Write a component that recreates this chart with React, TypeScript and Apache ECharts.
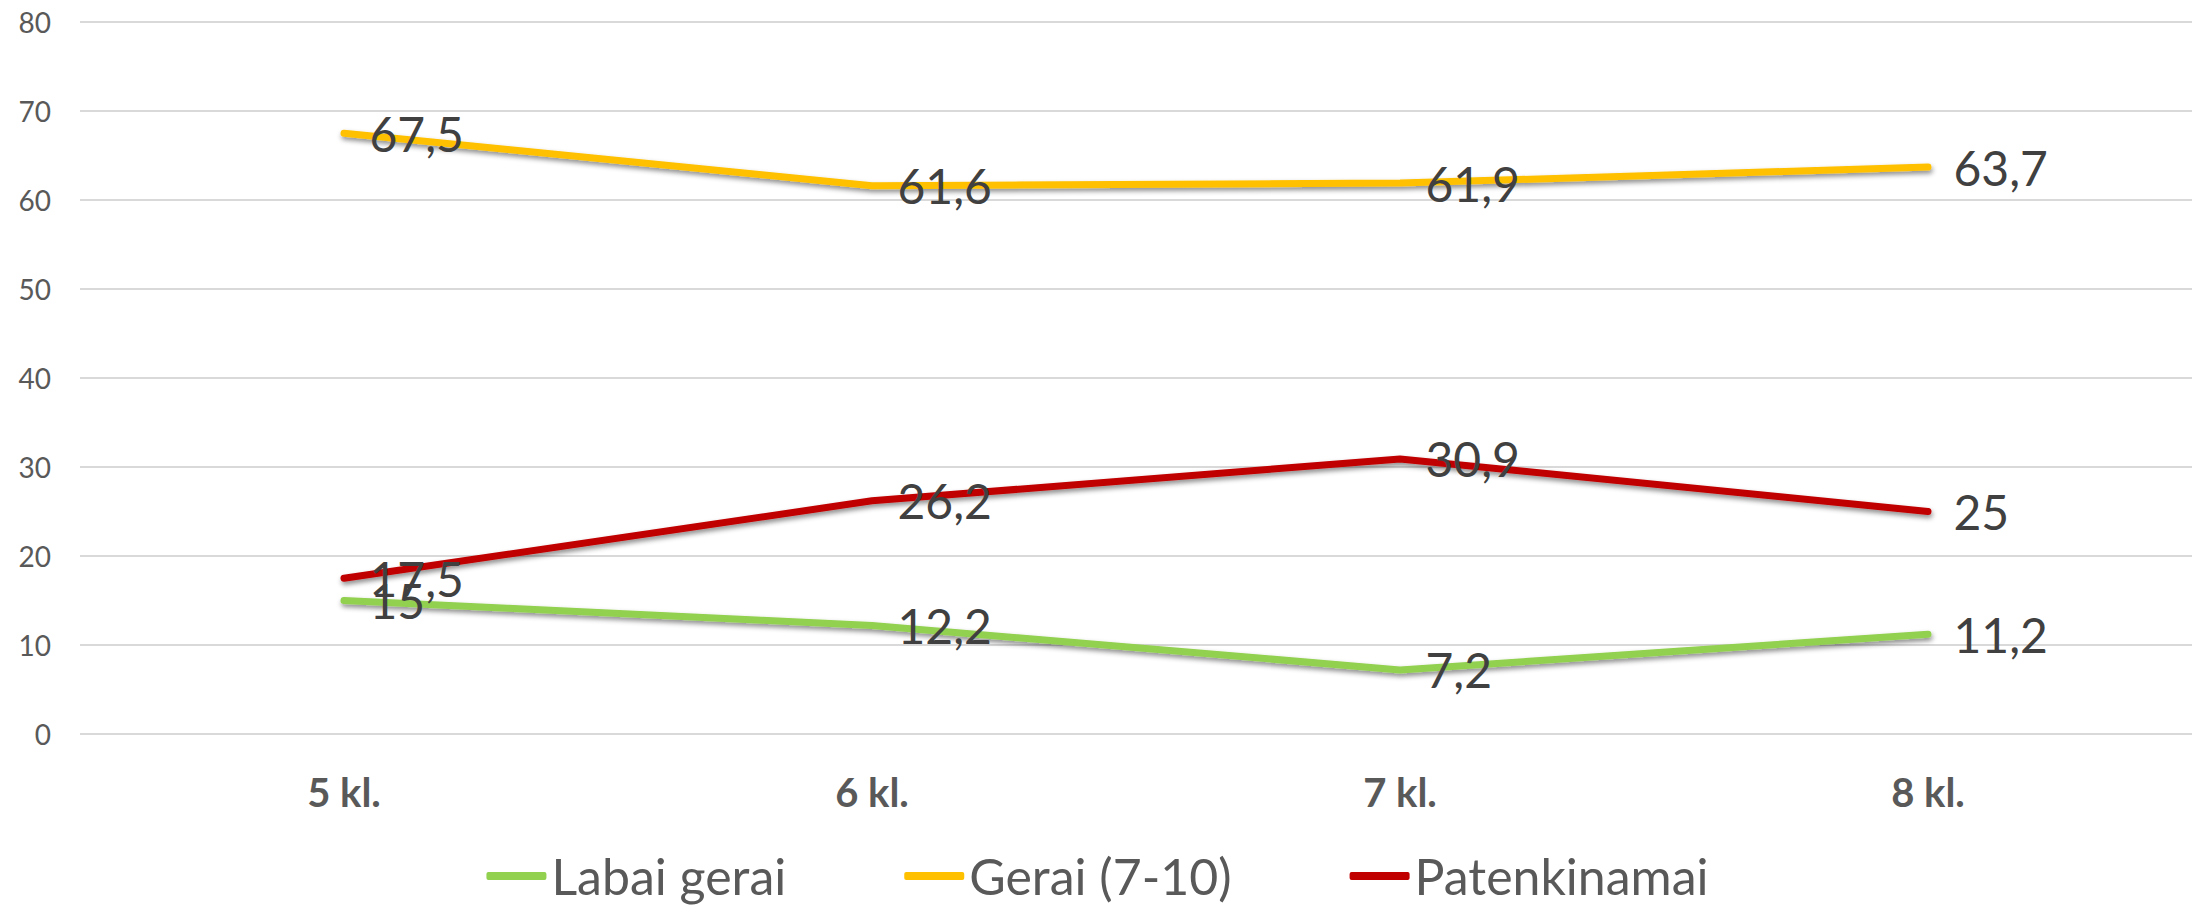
import React, { useEffect, useRef } from "react";
import * as echarts from "echarts";

const categories = ["5 kl.", "6 kl.", "7 kl.", "8 kl."];
const seriesNames = ["Labai gerai", "Gerai (7-10)", "Patenkinamai"];
const labaiGerai = [15, 12.2, 7.2, 11.2];
const gerai = [67.5, 61.6, 61.9, 63.7];
const patenkinamai = [17.5, 26.2, 30.9, 25];
const colors = ["#92D050", "#FFC000", "#C00000"];
const yMin = 0;
const yMax = 80;
const yInterval = 10;

export default function App() {
  const ref = useRef<HTMLDivElement>(null);
  useEffect(() => {
    if (!ref.current) return;
    const chart = echarts.init(ref.current, undefined, { renderer: "svg" });
    const values = [labaiGerai, gerai, patenkinamai];
    const mkSeries = (i: number) => ({
      name: seriesNames[i],
      type: "line",
      data: values[i],
      symbol: "circle",
      symbolSize: 1,
      itemStyle: { color: "rgba(0,0,0,0)", borderWidth: 0 },
      lineStyle: {
        color: colors[i],
        width: 7,
        cap: "round",
        join: "round",
        shadowColor: "rgba(0,0,0,0.45)",
        shadowBlur: 5,
        shadowOffsetX: 1,
        shadowOffsetY: 3,
      },
      label: {
        show: true,
        position: "right",
        distance: 25,
        fontFamily: "Lato",
        fontSize: 48,
        color: "#404040",
        opacity: 1,
        formatter: (p: any) => String(p.value).replace(".", ","),
      },
      labelLayout: { hideOverlap: false },
      emphasis: { disabled: true },
      z: 2 + i,
    });
    chart.setOption({
      animation: false,
      backgroundColor: "#ffffff",
      color: colors,
      grid: { left: 80, right: 3, top: 22, bottom: 175, containLabel: false },
      legend: {
        top: 851,
        left: "center",
        padding: 0,
        itemWidth: 60,
        itemHeight: 8,
        itemGap: 118,
        icon: "roundRect",
        data: seriesNames.map((n, i) => ({ name: n, itemStyle: { color: colors[i], opacity: 1 } })),
        textStyle: {
          fontFamily: "Lato",
          fontSize: 50,
          lineHeight: 50,
          color: "#595959",
          padding: [0, 0, 0, 0],
        },
      },
      xAxis: {
        type: "category",
        data: categories,
        boundaryGap: true,
        axisLine: { show: false },
        axisTick: { show: false },
        axisLabel: {
          margin: 38,
          fontFamily: "Lato",
          fontWeight: "bold",
          fontSize: 40,
          color: "#595959",
        },
      },
      yAxis: {
        type: "value",
        min: yMin,
        max: yMax,
        interval: yInterval,
        axisLine: { show: false },
        axisTick: { show: false },
        splitLine: { lineStyle: { color: "#d9d9d9", width: 2 } },
        axisLabel: {
          margin: 29,
          fontFamily: "Lato",
          fontSize: 28,
          color: "#595959",
        },
      },
      series: [mkSeries(0), mkSeries(1), mkSeries(2)],
    });
    return () => chart.dispose();
  }, []);
  return (
    <div
      ref={ref}
      style={{ position: "absolute", left: 0, top: 0, width: 2195, height: 909 }}
    />
  );
}
